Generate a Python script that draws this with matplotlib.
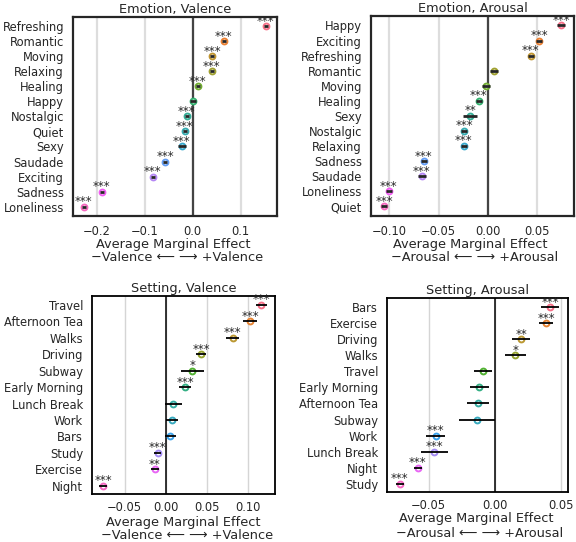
import matplotlib
matplotlib.use("Agg")
import matplotlib.pyplot as plt
import seaborn as sns

# ---------------- data ----------------
ev_labels = ["Refreshing", "Romantic", "Moving", "Relaxing", "Healing", "Happy", "Nostalgic",
             "Quiet", "Sexy", "Saudade", "Exciting", "Sadness", "Loneliness"]
ev_values = [0.152, 0.0646, 0.041, 0.0396, 0.011, 0.0, -0.0125, -0.0167, -0.0223, -0.057,
             -0.0827, -0.189, -0.2265]
ev_errors = [0.004, 0.004, 0.004, 0.004, 0.004, 0.006, 0.004, 0.004, 0.008, 0.004, 0.004, 0.004, 0.004]
ev_stars = ["***", "***", "***", "***", "***", "", "***", "***", "***", "***", "***", "***", "***"]
ev_ticks = [-0.2, -0.1, 0.0, 0.1]
ev_ticklabels = ["\u22120.2", "\u22120.1", "0.0", "0.1"]

ea_labels = ["Happy", "Exciting", "Refreshing", "Romantic", "Moving", "Healing", "Sexy",
             "Nostalgic", "Relaxing", "Sadness", "Saudade", "Loneliness", "Quiet"]
ea_values = [0.0743, 0.052, 0.0433, 0.0061, -0.002, -0.0095, -0.0182, -0.024, -0.0247,
             -0.0652, -0.0672, -0.1007, -0.1054]
ea_errors = [0.004, 0.003, 0.003, 0.004, 0.004, 0.003, 0.007, 0.003, 0.003, 0.003, 0.004, 0.003, 0.003]
ea_stars = ["***", "***", "***", "", "", "***", "**", "***", "***", "***", "***", "***", "***"]
ea_ticks = [-0.10, -0.05, 0.0, 0.05]
ea_ticklabels = ["\u22120.10", "\u22120.05", "0.00", "0.05"]

sv_labels = ["Travel", "Afternoon Tea", "Walks", "Driving", "Subway", "Early Morning",
             "Lunch Break", "Work", "Bars", "Study", "Exercise", "Night"]
sv_values = [0.1157, 0.102, 0.081, 0.0425, 0.032, 0.0234, 0.0089, 0.0077, 0.0052, -0.0101,
             -0.0134, -0.0765]
sv_errors = [0.0065, 0.008, 0.0077, 0.0065, 0.014, 0.0073, 0.010, 0.0073, 0.0069, 0.004,
             0.0045, 0.0045]
sv_stars = ["***", "***", "***", "***", "*", "***", "", "", "", "***", "**", "***"]
sv_ticks = [-0.05, 0.0, 0.05, 0.10]
sv_ticklabels = ["\u22120.05", "0.00", "0.05", "0.10"]

sa_labels = ["Bars", "Exercise", "Driving", "Walks", "Travel", "Early Morning", "Afternoon Tea",
             "Subway", "Work", "Lunch Break", "Night", "Study"]
sa_values = [0.0417, 0.0384, 0.0196, 0.0153, -0.0093, -0.0118, -0.0128, -0.0136, -0.0447,
             -0.0457, -0.0583, -0.0718]
sa_errors = [0.0067, 0.0052, 0.0067, 0.008, 0.0069, 0.0069, 0.0082, 0.0138, 0.0072, 0.010,
             0.0031, 0.0029]
sa_stars = ["***", "***", "**", "*", "", "", "", "", "***", "***", "***", "***"]
sa_ticks = [-0.05, 0.0, 0.05]
sa_ticklabels = ["\u22120.05", "0.00", "0.05"]

W, H = 576, 542
fig = plt.figure(figsize=(W / 100, H / 100), dpi=100)
TEXT = "#262626"
TFS = 8.3    # tick labels
LFS = 9.3    # titles / axis labels
SFS = 8.5    # significance stars


def box(l, t, r, b):
    return [l / W, 1 - b / H, (r - l) / W, (b - t) / H]


def panel(rect, labels, values, errors, stars, ticks, ticklabels, xlim, ylim, title, dim,
          top_style, xpad, lab1, lab2):
    ax = fig.add_axes(rect)
    n = len(labels)
    cols = sns.color_palette("husl", n)
    if top_style:
        spc, slw, zc, zlw, gc, glw, ec, elw = TEXT, 1.6, "#444444", 1.6, "#dddddd", 1.6, TEXT, 2.0
    else:
        spc, slw, zc, zlw, gc, glw, ec, elw = "black", 1.3, "black", 1.1, "#d5d5d5", 1.0, "black", 1.3
    for t in ticks:
        ax.axvline(t, color=gc, lw=glw, zorder=0)
    ax.axvline(0, color=zc, lw=zlw, zorder=1)
    for i in range(n):
        ax.plot(values[i], i, "o", ms=4.2, mfc="white", mec=cols[i], mew=1.4, zorder=3)
        ax.plot([values[i] - errors[i], values[i] + errors[i]], [i, i], color=ec, lw=elw,
                solid_capstyle="butt", zorder=4)
        if stars[i]:
            ax.text(values[i], i - 0.1, stars[i], ha="center", va="baseline", fontsize=SFS,
                    color=TEXT, zorder=5)
    ax.set_xlim(*xlim)
    ax.set_ylim(*ylim)
    ax.set_yticks(range(n))
    ax.set_yticklabels(labels)
    ax.set_xticks(ticks)
    ax.set_xticklabels(ticklabels)
    ax.tick_params(length=0, labelsize=TFS, labelcolor=TEXT)
    ax.tick_params(axis="y", pad=6.5)
    ax.tick_params(axis="x", pad=xpad)
    for s in ax.spines.values():
        s.set_color(spc)
        s.set_linewidth(slw)
    ax.set_title(title, fontsize=LFS, color=TEXT, pad=3.2)
    fig.text(lab1[0] / W, 1 - lab1[1] / H, "Average Marginal Effect", ha="center",
             va="baseline", fontsize=LFS, color=TEXT)
    fig.text(lab2[0] / W, 1 - lab2[1] / H, "\u2212%s \u27F5 \u27F6 +%s" % (dim, dim),
             ha="center", va="baseline", fontsize=LFS, color=TEXT)
    return ax


panel(box(73, 17, 277, 216), ev_labels, ev_values, ev_errors, ev_stars, ev_ticks, ev_ticklabels,
      (-0.249, 0.1756), (12.62, -0.6), "Emotion, Valence", "Valence", True, 6.5,
      (173.3, 248.3), (177.5, 260.7))
panel(box(371, 16, 574, 216), ea_labels, ea_values, ea_errors, ea_stars, ea_ticks, ea_ticklabels,
      (-0.1186, 0.0872), (12.65, -0.63), "Emotion, Arousal", "Arousal", True, 6.5,
      (470.3, 248.0), (474.2, 260.7))
panel(box(92, 296, 275, 494), sv_labels, sv_values, sv_errors, sv_stars, sv_ticks, sv_ticklabels,
      (-0.0898, 0.1323), (11.5, -0.55), "Setting, Valence", "Valence", False, 5.3,
      (183.0, 525.7), (187.2, 539.3))
panel(box(387, 298, 568, 492), sa_labels, sa_values, sa_errors, sa_stars, sa_ticks, sa_ticklabels,
      (-0.0814, 0.055), (11.52, -0.58), "Setting, Arousal", "Arousal", False, 5.3,
      (476.2, 522.4), (479.7, 536.6))

fig.savefig("out.png", dpi=100, facecolor="white")
